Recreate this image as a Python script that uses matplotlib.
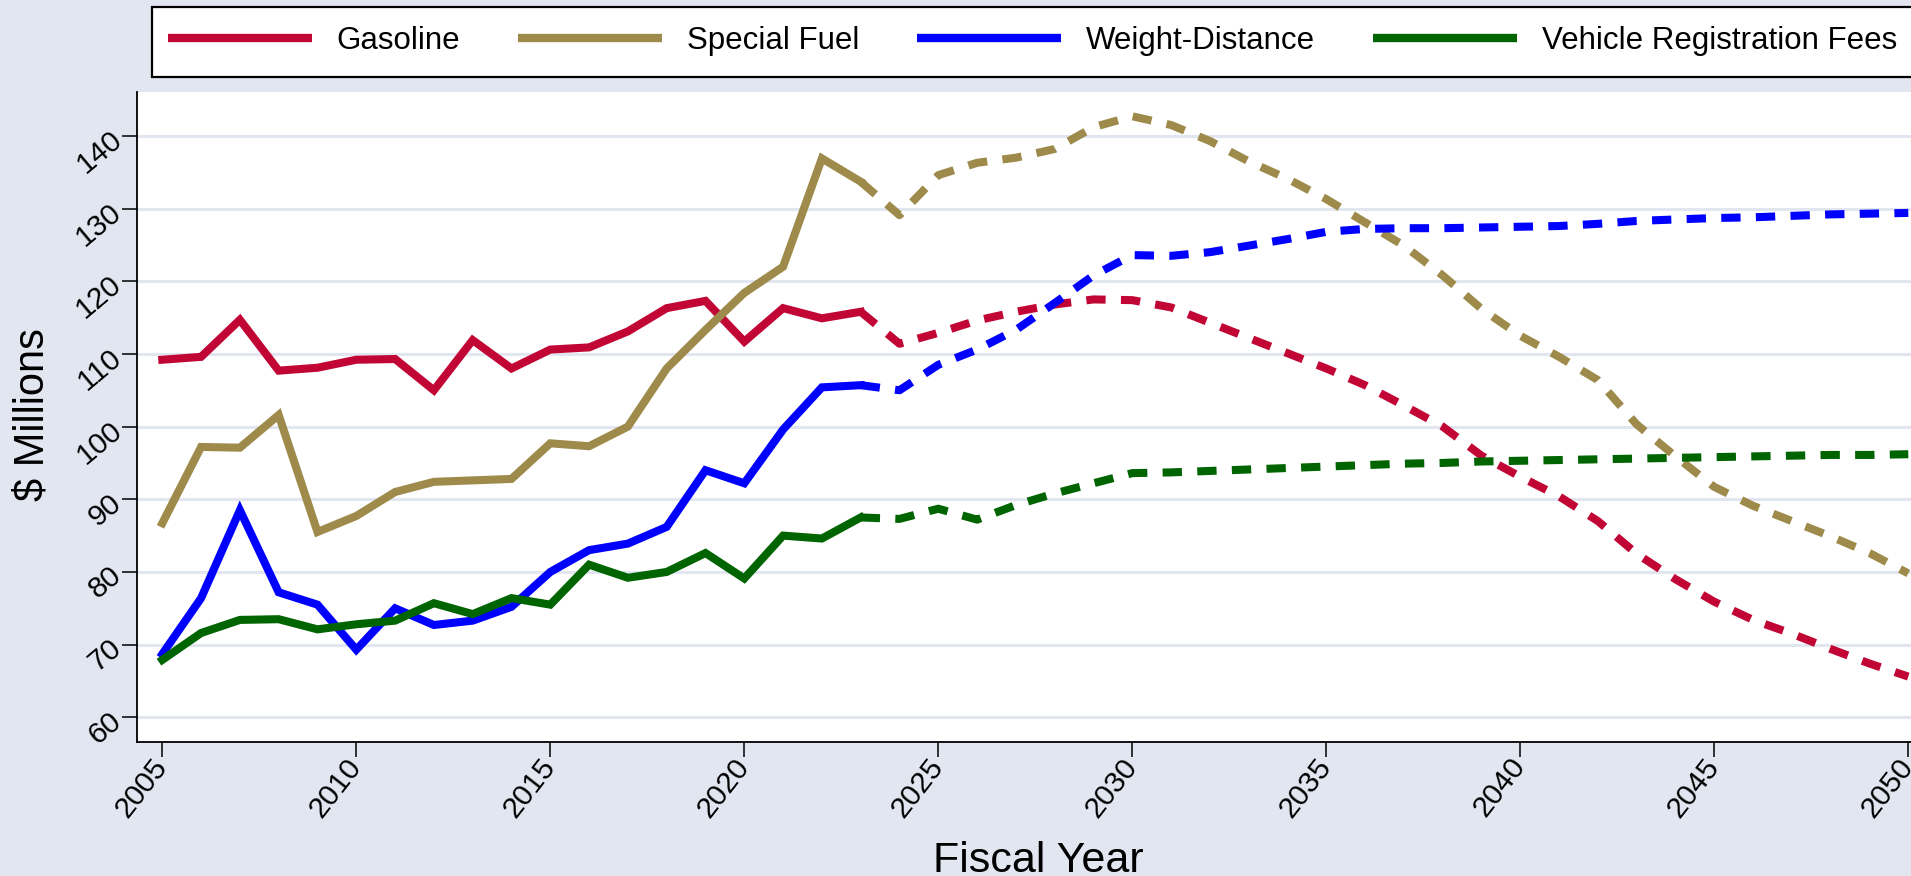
import matplotlib
matplotlib.use("Agg")
import matplotlib.pyplot as plt
from matplotlib.lines import Line2D
from matplotlib.patches import Rectangle

plt.rcParams['font.family'] = ['Liberation Sans', 'DejaVu Sans']

# actuals 2005-2023, forecast 2023-2050
years_hist = list(range(2005, 2024))
years_fcst = list(range(2023, 2051))

gas_hist = [109.2, 109.6, 114.7, 107.7, 108.1, 109.2, 109.3, 105.0, 111.9, 108.0,
            110.6, 110.9, 113.1, 116.3, 117.3, 111.7, 116.3, 114.9, 115.8]
gas_fcst = [115.8, 111.4, 112.9, 114.6, 115.8, 116.8, 117.5, 117.4, 116.4, 114.3,
            112.2, 110.1, 108.0, 105.7, 102.9, 100.0, 96.0, 93.1, 90.4, 87.0,
            82.5, 79.0, 75.9, 73.4, 71.5, 69.4, 67.4, 65.6]

sf_hist = [86.7, 97.2, 97.1, 101.6, 85.5, 87.7, 91.0, 92.4, 92.6, 92.8,
           97.7, 97.3, 100.0, 108.0, 113.3, 118.4, 122.0, 136.9, 133.7]
sf_fcst = [133.7, 129.1, 134.6, 136.3, 137.0, 138.2, 141.2, 142.7, 141.5, 139.3,
           136.5, 134.1, 131.3, 128.1, 124.9, 120.8, 116.2, 112.5, 109.6, 106.4,
           100.3, 95.9, 91.7, 89.1, 87.0, 84.9, 82.6, 79.8]

wd_hist = [68.7, 76.4, 88.5, 77.2, 75.5, 69.3, 75.0, 72.7, 73.3, 75.2,
           80.0, 83.0, 83.9, 86.2, 94.0, 92.2, 99.6, 105.4, 105.7]
wd_fcst = [105.7, 105.0, 108.5, 110.6, 113.3, 117.0, 120.8, 123.6, 123.5, 124.0,
           124.9, 125.8, 126.8, 127.2, 127.3, 127.3, 127.4, 127.5, 127.6, 127.9,
           128.3, 128.5, 128.7, 128.8, 129.0, 129.2, 129.3, 129.4]

vr_hist = [67.9, 71.6, 73.4, 73.5, 72.1, 72.8, 73.3, 75.7, 74.2, 76.4,
           75.5, 81.0, 79.2, 80.0, 82.6, 79.1, 85.0, 84.6, 87.5]
vr_fcst = [87.5, 87.3, 88.7, 87.2, 89.2, 90.8, 92.2, 93.6, 93.7, 93.9,
           94.1, 94.3, 94.5, 94.7, 94.9, 95.0, 95.2, 95.3, 95.4, 95.5,
           95.6, 95.7, 95.8, 95.9, 96.0, 96.1, 96.1, 96.2]

labels = ["Gasoline", "Special Fuel", "Weight-Distance", "Vehicle Registration Fees"]
colors = ["#C10534", "#9E8A4A", "#0000FF", "#006400"]
hist = [gas_hist, sf_hist, wd_hist, vr_hist]
fcst = [gas_fcst, sf_fcst, wd_fcst, vr_fcst]

bg = "#E1E6F0"
W, H = 1911, 876

fig = plt.figure(figsize=(W / 100, H / 100), dpi=100, facecolor=bg)
ax = fig.add_axes([137.3 / W, (H - 742.3) / H, (W - 137.3) / W, (742.3 - 92.3) / H])
ax.set_facecolor("white")

lw = 5.8
for h, f, c in zip(hist, fcst, colors):
    ax.plot(years_hist, h, color=c, lw=lw, solid_joinstyle='miter')
    ax.plot(years_fcst, f, color=c, lw=lw, dashes=(2.4, 1.9))

ax.set_xlim(2004.356, 2050.07)
ax.set_ylim(56.56, 146.0)
ax.set_xticks(range(2005, 2051, 5))
ax.set_yticks(range(60, 141, 10))
ax.grid(axis='y', color=bg, lw=2.2)
ax.set_axisbelow(True)

for s in ['top', 'right']:
    ax.spines[s].set_visible(False)
for s in ['left', 'bottom']:
    ax.spines[s].set_linewidth(1.3)

ax.tick_params(length=10.8, width=1.1, labelsize=21.5, pad=3)
for t in ax.get_xticklabels():
    t.set_rotation(52)
    t.set_ha('right')
    t.set_va('center')
    t.set_rotation_mode('anchor')
for t in ax.get_yticklabels():
    t.set_rotation(40)
    t.set_ha('right')
    t.set_va('center')
    t.set_rotation_mode('anchor')

fig.text(1038 / W, 4.3 / H, "Fiscal Year", fontsize=31, ha='center', va='baseline')
fig.text(32 / W, (H - 415) / H, "$ Millions", fontsize=30, rotation=90,
         ha='center', va='center')

# legend box runs past the right edge of the picture
fig.patches.append(Rectangle((152 / W, 1 - 77.3 / H), (1930 - 152) / W, 70.6 / H,
                             transform=fig.transFigure, facecolor='white',
                             edgecolor='black', lw=1.6, zorder=1))

handles = [Line2D([0], [0], color=c, lw=6, solid_capstyle='butt') for c in colors]
leg = fig.legend(handles, labels, loc='center left', bbox_to_anchor=(152 / W, 1 - 41 / H),
                 ncol=4, fontsize=22.5, handlelength=4.6, handletextpad=0.8,
                 columnspacing=1.85, borderpad=0.51, borderaxespad=0,
                 frameon=False)
leg.set_zorder(2)

fig.savefig("out.png", dpi=100, facecolor=bg)
